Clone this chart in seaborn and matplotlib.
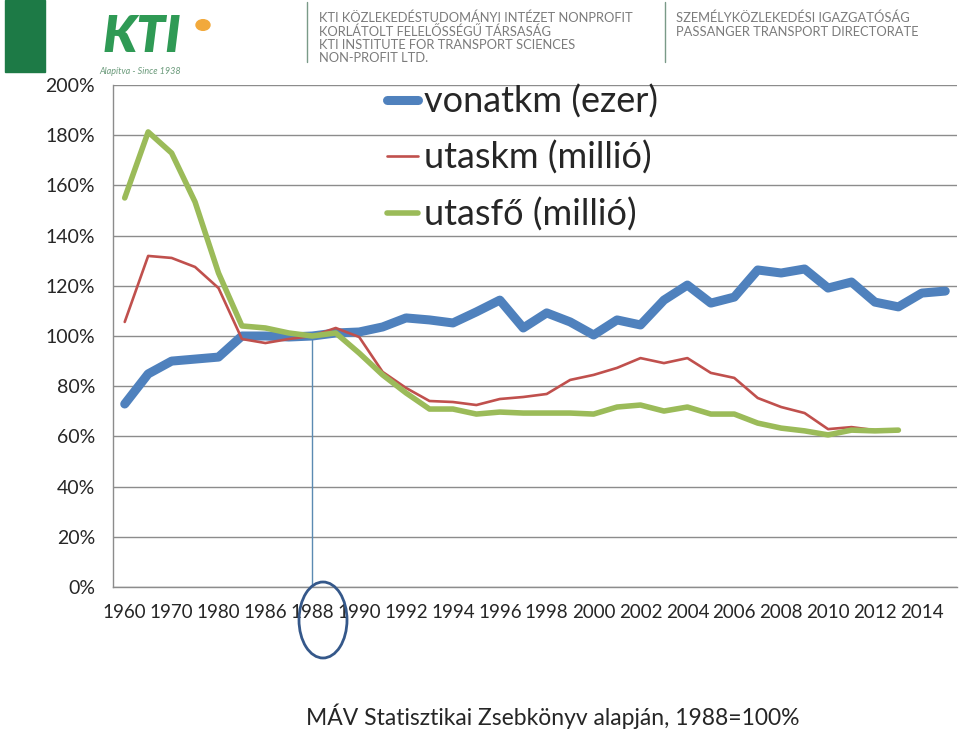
"""MAV passenger rail indices, 1988 = 100%."""

import matplotlib

matplotlib.use("Agg")

import matplotlib.pyplot as plt
import pandas as pd
import seaborn as sns
from matplotlib.patches import Ellipse, Rectangle, Circle
from matplotlib.lines import Line2D

years = [1960, 1965, 1970, 1975, 1980, 1985] + list(range(1986, 2016))

vonatkm = [
    72.9, 84.9, 90.0, 90.8, 91.6, 100.0, 100.0, 99.6, 100.0, 101.2,
    101.6, 103.6, 107.2, 106.4, 105.2, 109.6, 114.3, 103.2, 109.2, 105.6,
    100.4, 106.4, 104.4, 114.3, 120.3, 113.1, 115.5, 126.3, 125.1, 126.7,
    119.1, 121.5, 113.5, 111.6, 117.1, 117.9,
]
utaskm = [
    105.6, 131.9, 131.1, 127.5, 119.1, 98.8, 97.2, 98.8, 100.0, 103.2,
    99.6, 85.7, 79.3, 74.1, 73.7, 72.5, 74.9, 75.7, 76.9, 82.5,
    84.5, 87.3, 91.2, 89.2, 91.2, 85.3, 83.3, 75.3, 71.7, 69.3,
    62.9, 63.7, 62.5, 62.5, None, None,
]
utasfo = [
    155.0, 181.3, 172.9, 153.4, 125.1, 104.0, 103.2, 101.2, 100.0, 101.2,
    93.2, 84.5, 77.3, 70.9, 70.9, 68.9, 69.7, 69.3, 69.3, 69.3,
    68.9, 71.7, 72.5, 70.1, 71.7, 68.9, 68.9, 65.3, 63.3, 62.2,
    60.6, 62.5, 62.2, 62.5, None, None,
]

series_names = ["vonatkm (ezer)", "utaskm (millió)", "utasfő (millió)"]
colors = ["#4F81BD", "#C0504D", "#9BBB59"]
widths = [6.5, 1.9, 4.0]

df = pd.DataFrame({
    "pos": range(len(years)),
    series_names[0]: vonatkm,
    series_names[1]: utaskm,
    series_names[2]: utasfo,
})

sns.set_style("white")
plt.rcParams["font.family"] = ["Lato", "DejaVu Sans"]

fig = plt.figure(figsize=(9.6, 7.3), dpi=100)
ax = fig.add_axes([113 / 960, 1 - 587 / 730, 844 / 960, 502 / 730])

ax.set_ylim(0, 200)
ax.set_yticks(range(0, 201, 20))
ax.set_yticklabels([f"{v}%" for v in range(0, 201, 20)], fontsize=14)
ax.yaxis.grid(True, color="#8c8c8c", lw=1.0)
ax.set_axisbelow(True)

handles = []
for name, c, w in zip(series_names, colors, widths):
    sub = df[["pos", name]].dropna()
    sns.lineplot(data=sub, x="pos", y=name, ax=ax, color=c, lw=w,
                 solid_capstyle="round", solid_joinstyle="round", zorder=3)
    handles.append(Line2D([0], [0], color=c, lw=w, solid_capstyle="round"))

# reference line at 1988
ref = years.index(1988)
ax.vlines(ref, 0, 100, color="#5b8ab2", lw=1.0, zorder=2)

ax.set_xlim(-0.5, len(years) - 0.5)
label_pos = list(range(0, len(years) - 1, 2))
ax.set_xticks(label_pos)
ax.set_xticklabels([str(years[i]) for i in label_pos], fontsize=13.5)
ax.set_xticks([i - 0.5 for i in range(len(years) + 1)], minor=True)
ax.tick_params(axis="x", which="major", length=0, pad=12)
ax.tick_params(axis="x", which="minor", length=5, color="#8c8c8c", direction="out")
ax.tick_params(axis="y", length=5, color="#8c8c8c", direction="out", pad=8)
ax.set_xlabel("")
ax.set_ylabel("")
for side in ["top", "right"]:
    ax.spines[side].set_visible(False)
for side in ["left", "bottom"]:
    ax.spines[side].set_color("#8c8c8c")
    ax.spines[side].set_linewidth(1.0)

ax.legend(handles, series_names, loc="upper left", bbox_to_anchor=(0.308, 1.03),
          frameon=False, fontsize=26, handlelength=0.85, handletextpad=0.15,
          labelspacing=0.62, borderaxespad=0)

# circle around 1988 label
fig.patches.append(Ellipse((323 / 960, 1 - 620 / 730), 48 / 960, 76 / 730,
                           transform=fig.transFigure, fill=False,
                           edgecolor="#35588a", lw=2.0))

fig.text(553 / 960, 1 - 716 / 730, "MÁV Statisztikai Zsebkönyv alapján, 1988=100%",
         ha="center", va="center", fontsize=16.5)

# header / logo strip
fig.patches.append(Rectangle((5 / 960, 1 - 72 / 730), 40 / 960, 72 / 730,
                             transform=fig.transFigure, color="#1d7a46"))
fig.text(142 / 960, 1 - 37 / 730, "KTI", ha="center", va="center", fontsize=37,
         fontweight="heavy", style="italic", color="#2f9a55")
fig.patches.append(Circle((203 / 960, 1 - 25 / 730), 7 / 960,
                          transform=fig.transFigure, color="#f2a93b"))
fig.text(140 / 960, 1 - 71 / 730, "Alapítva - Since 1938", ha="center", va="center",
         fontsize=6.5, style="italic", color="#6a9a7a")
for xp in (307, 665):
    fig.add_artist(Line2D([xp / 960, xp / 960], [1 - 2 / 730, 1 - 62 / 730],
                          transform=fig.transFigure, color="#7a9a88", lw=1))
left_lines = [
    "KTI KÖZLEKEDÉSTUDOMÁNYI INTÉZET NONPROFIT",
    "KORLÁTOLT FELELŐSSÉGŰ TÁRSASÁG",
    "KTI INSTITUTE FOR TRANSPORT SCIENCES",
    "NON-PROFIT LTD.",
]
right_lines = ["SZEMÉLYKÖZLEKEDÉSI IGAZGATÓSÁG", "PASSANGER TRANSPORT DIRECTORATE"]
for i, t in enumerate(left_lines):
    fig.text(319 / 960, 1 - (18 + 13.5 * i) / 730, t, ha="left", va="center",
             fontsize=9.3, color="#7b7b7b")
for i, t in enumerate(right_lines):
    fig.text(676 / 960, 1 - (18 + 13.5 * i) / 730, t, ha="left", va="center",
             fontsize=9.3, color="#7b7b7b")

fig.savefig("out.png", dpi=100)
